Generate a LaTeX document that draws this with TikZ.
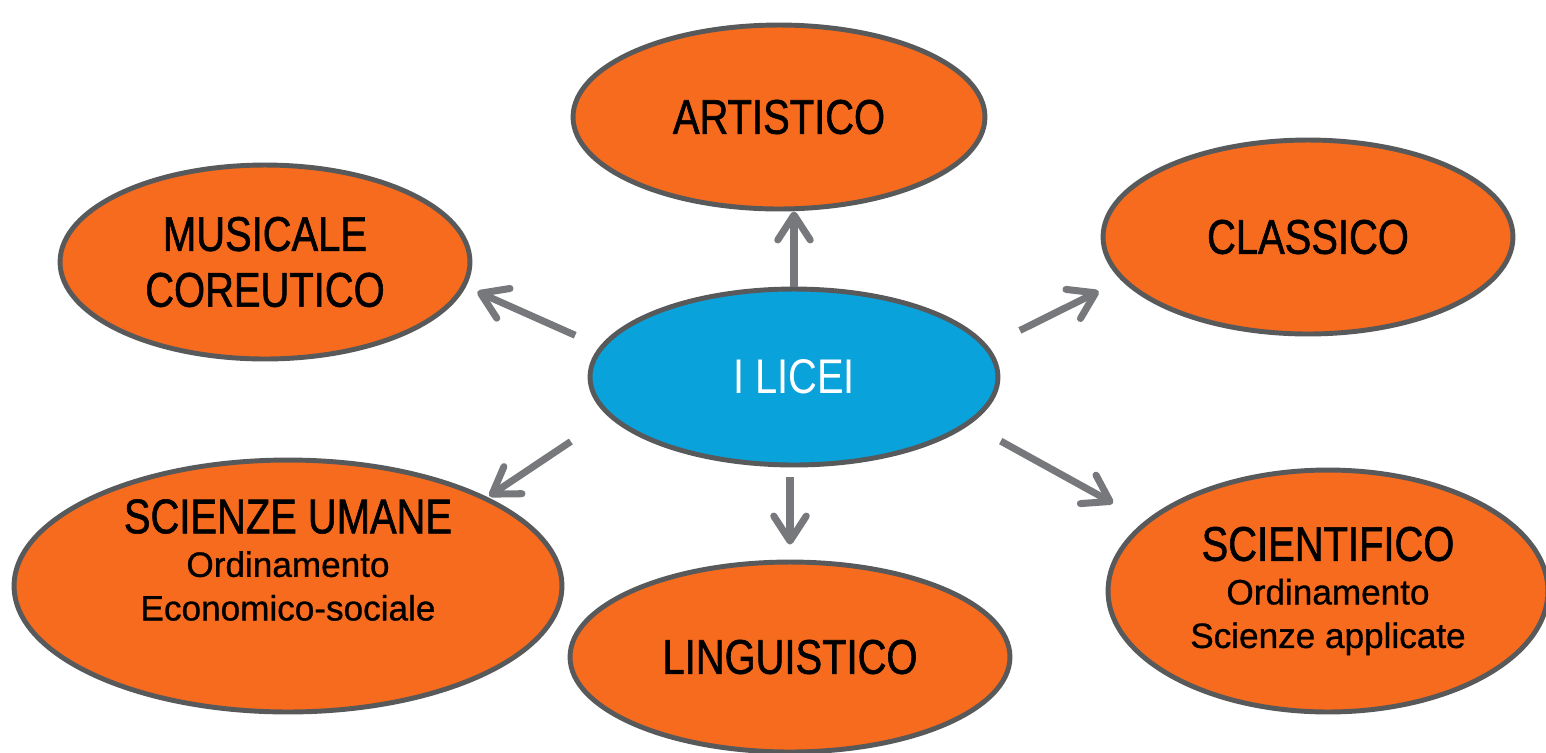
\documentclass[tikz,border=0pt]{standalone}
\usepackage{fontspec}
\setmainfont{Liberation Sans}
\newfontfamily\condfont[FakeStretch=0.82,FakeBold=1.2]{Liberation Sans}
\newfontfamily\lightfont[FakeStretch=0.82]{Liberation Sans}
\newfontfamily\medfont[FakeBold=0.9]{Liberation Sans}
\usetikzlibrary{shapes.geometric,arrows.meta}
\definecolor{liceoorange}{HTML}{F66B1E}
\definecolor{liceoblue}{HTML}{0AA2DA}
\definecolor{rimgrey}{HTML}{58595B}
\definecolor{arrowgrey}{HTML}{77787B}
\newcommand{\bigtxt}{\condfont\fontsize{27.7}{31.8}\selectfont}
\newcommand{\smalltxt}{\medfont\fontsize{20}{24.8}\selectfont}
\tikzset{
liceo/.style={ellipse,draw=rimgrey,line width=2.8pt,fill=liceoorange,inner sep=0pt,align=center,font=\bigtxt},
centro/.style={liceo,fill=liceoblue,text=white,font=\lightfont\fontsize{27.7}{31.8}\selectfont},
link/.style={draw=arrowgrey,line width=4pt,-{Straight Barb[length=5mm,width=6.5mm,round]}}
}

\begin{document}
\begin{tikzpicture}[x=0.02cm,y=-0.02cm]
\useasboundingbox (0,0) rectangle (1546,752);
\node[centro,minimum width=8.16cm,minimum height=3.52cm] (licei) at (794,377) {I LICEI};
\node[liceo,minimum width=8.24cm,minimum height=3.68cm] (artistico) at (779,117) {ARTISTICO};
\node[liceo,minimum width=8.2cm,minimum height=3.88cm] (musicale) at (265,262) {MUSICALE\\COREUTICO};
\node[liceo,minimum width=8.2cm,minimum height=3.88cm] (classico) at (1308,237) {CLASSICO};
\node[liceo,minimum width=10.96cm,minimum height=5.04cm] (umane) at (288,586) {};
\node[align=center,font=\smalltxt,inner sep=0pt] (umanetxt) at (288,560) {{\bigtxt SCIENZE UMANE}\\Ordinamento\\Economico-sociale};
\node[liceo,minimum width=8.8cm,minimum height=3.8cm] (linguistico) at (790,657) {LINGUISTICO};
\node[liceo,font=\smalltxt,minimum width=8.8cm,minimum height=4.84cm] (scientifico) at (1328,591) {{\bigtxt SCIENTIFICO}\\Ordinamento\\Scienze applicate};

% frecce dal centro
\draw[link] (licei.north) -- (licei.north |- artistico.south);
\draw[link,shorten <=0.54cm,shorten >=0.25cm] (licei.171) -- (musicale.-7);
\draw[link,shorten <=0.71cm,shorten >=0.5cm] (licei.9) -- (classico.193);
\draw[link,shorten <=0.9cm,shorten >=0.04cm] (licei.192) -- (umane.24);
\draw[link,shorten <=0.2cm,shorten >=0.3cm] (licei.south -| linguistico.north) -- (linguistico.north);
\draw[link,shorten <=0.7cm,shorten >=0.73cm] (licei.-15) -- (scientifico.159);
\end{tikzpicture}
\end{document}
